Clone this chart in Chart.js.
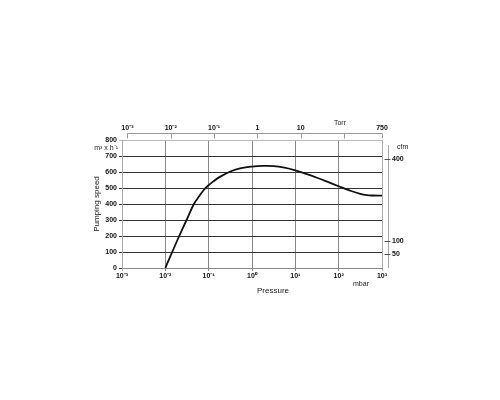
<!DOCTYPE html>
<html><head><meta charset="utf-8">
<script src="https://cdn.jsdelivr.net/npm/chart.js@4/dist/chart.umd.min.js"></script>
<style>html,body{margin:0;padding:0;background:#fff}#wrap{width:500px;height:400px;position:relative}</style>
</head><body><div id="wrap"><canvas id="c" width="500" height="400"></canvas></div>
<script>
// ---- data ----
const pressureMbar = [0.01, 0.0209, 0.0309, 0.0457, 0.0603, 0.0794, 0.1, 0.126, 0.178, 0.316, 0.562, 1, 1.78, 3.16, 5.62, 10, 17.8, 31.6, 56.2, 100, 178, 316, 447, 631, 1000];
const pumpingSpeed = [0, 200, 300, 400, 448, 492, 518, 540, 568, 603, 624, 634, 638, 637, 627, 610, 588, 564, 538, 511, 485, 463, 455, 453, 452];
const mbarTicks = [0.001, 0.01, 0.1, 1, 10, 100, 1000];
const mbarLabels = ['10⁻³', '10⁻²', '10⁻¹', '10⁰', '10¹', '10²', '10³'];
const torrTicks = [0.001, 0.01, 0.1, 1, 10, 100, 750];
const torrLabels = ['10⁻³', '10⁻²', '10⁻¹', '1', '10', '', '750'];
const speedTicks = [0, 100, 200, 300, 400, 500, 600, 700, 800];
const cfmTicks = [50, 100, 400];
const cfmLabels = ['50', '100', '400'];
const MBAR_PER_TORR = 1.33322;
const M3H_PER_CFM = 1.699;

const FONT = '"Liberation Sans", Arial, Helvetica, sans-serif';

const extras = {
  id: 'extras',
  afterDraw(chart) {
    const {ctx, chartArea: a, scales} = chart;
    const x2 = scales.x2, y2 = scales.y2;
    ctx.save();
    // top Torr axis line & ticks
    ctx.strokeStyle = '#999';
    ctx.lineWidth = 1;
    const ty = Math.round(a.top - 7) + 0.5;
    ctx.beginPath();
    ctx.moveTo(x2.getPixelForValue(torrTicks[0]), ty);
    ctx.lineTo(x2.getPixelForValue(torrTicks[torrTicks.length - 1]), ty);
    torrTicks.forEach(t => {
      const px = Math.round(x2.getPixelForValue(t)) + 0.5;
      ctx.moveTo(px, ty);
      ctx.lineTo(px, ty + 5);
    });
    ctx.stroke();
    // right cfm axis line & ticks
    const rx = Math.round(a.right + 6) + 0.5;
    ctx.strokeStyle = '#aaa';
    ctx.beginPath();
    ctx.moveTo(rx, a.top + 5);
    ctx.lineTo(rx, a.bottom);
    ctx.stroke();
    ctx.strokeStyle = '#555';
    ctx.beginPath();
    cfmTicks.forEach(t => {
      const py = Math.round(y2.getPixelForValue(t)) + 0.5;
      ctx.moveTo(rx - 4, py);
      ctx.lineTo(rx + 2, py);
    });
    ctx.stroke();
    // texts
    ctx.fillStyle = '#222';
    ctx.textBaseline = 'middle';
    ctx.font = '7px ' + FONT;
    ctx.textAlign = 'right';
    ctx.fillText('m³ x h⁻¹', a.left - 4, a.top + 8);
    ctx.textAlign = 'left';
    ctx.fillText('cfm', a.right + 15, a.top + 7);
    ctx.textAlign = 'center';
    ctx.fillText('Torr', a.left + 218, a.top - 17);
    ctx.fillText('mbar', a.left + 239, a.bottom + 16);
    ctx.font = '8px ' + FONT;
    ctx.fillText('Pressure', a.left + 151, a.bottom + 23);
    ctx.translate(a.left - 25, a.top + 64);
    ctx.rotate(-Math.PI / 2);
    ctx.fillText('Pumping speed', 0, 0);
    ctx.restore();
  }
};

new Chart(document.getElementById('c'), {
  type: 'line',
  data: {
    datasets: [{
      data: pressureMbar.map((p, i) => ({x: p, y: pumpingSpeed[i]})),
      borderColor: '#111',
      borderWidth: 1.8,
      pointRadius: 0,
      tension: 0.4,
      xAxisID: 'x',
      yAxisID: 'y'
    }]
  },
  options: {
    responsive: false,
    animation: false,
    layout: {padding: 0},
    plugins: {legend: {display: false}, tooltip: {enabled: false}},
    scales: {
      x: {
        type: 'logarithmic', position: 'bottom', min: 0.001, max: 1000,
        afterBuildTicks: s => { s.ticks = mbarTicks.map(v => ({value: v})); },
        afterFit: s => { s.height = 132; },
        ticks: {
          callback: (v, i) => mbarLabels[i], autoSkip: false, maxRotation: 0,
          font: {family: FONT, size: 7, weight: 'bold'}, color: '#111', padding: 1
        },
        grid: {
          color: c => (c.tick && (c.tick.value === 0.001 || c.tick.value === 1000)) ? '#aaa' : '#888',
          lineWidth: 1, tickLength: 3
        },
        border: {color: '#888', width: 1}
      },
      x2: {
        type: 'logarithmic', position: 'top',
        min: 0.001 / MBAR_PER_TORR, max: 1000 / MBAR_PER_TORR,
        afterBuildTicks: s => { s.ticks = torrTicks.map(v => ({value: v})); },
        afterFit: s => { s.height = 140; },
        ticks: {
          callback: (v, i) => torrLabels[i], autoSkip: false, maxRotation: 0,
          font: {family: FONT, size: 7, weight: 'bold'}, color: '#111', padding: 8
        },
        grid: {display: false, drawTicks: false},
        border: {display: false}
      },
      y: {
        type: 'linear', position: 'left', min: 0, max: 800,
        afterBuildTicks: s => { s.ticks = speedTicks.map(v => ({value: v})); },
        afterFit: s => { s.width = 122; },
        ticks: {font: {family: FONT, size: 7, weight: 'bold'}, color: '#111', padding: 2},
        grid: {
          color: c => (c.tick && c.tick.value === 800) ? '#bbb' : '#333',
          lineWidth: 1, tickLength: 3
        },
        border: {color: '#aaa', width: 1}
      },
      y2: {
        type: 'linear', position: 'right', min: 0, max: 800 / M3H_PER_CFM,
        afterBuildTicks: s => { s.ticks = cfmTicks.map(v => ({value: v})); },
        afterFit: s => { s.width = 118; },
        ticks: {
          callback: (v, i) => cfmLabels[i],
          font: {family: FONT, size: 7, weight: 'bold'}, color: '#111', padding: 10
        },
        grid: {display: false, drawTicks: false},
        border: {display: false}
      }
    }
  },
  plugins: [extras]
});
</script>
</body></html>
